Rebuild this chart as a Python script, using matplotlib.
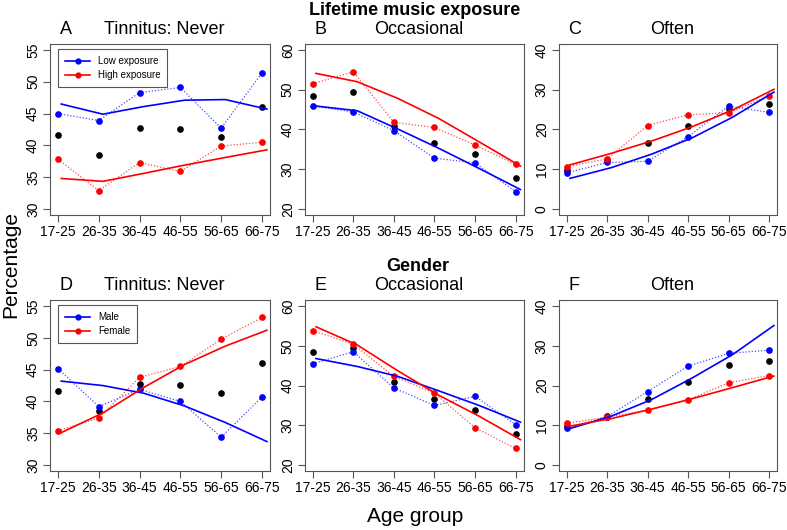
import numpy as np
import matplotlib
matplotlib.use("Agg")
import matplotlib.pyplot as plt
from matplotlib.lines import Line2D

plt.rcParams['font.family'] = ['Liberation Sans', 'DejaVu Sans']

# ===== DATA =====
age_groups = ['17-25', '26-35', '36-45', '46-55', '56-65', '66-75']
x_pts = np.arange(1, 7)
x_fit = np.array([1.08, 2.1, 3.1, 4.1, 5.1, 6.12])

# overall (black) points, shared by both rows
all_never = [41.7, 38.5, 42.8, 42.6, 41.3, 46.0]
all_occ = [48.5, 49.4, 40.9, 36.5, 33.8, 27.7]
all_often = [9.8, 12.4, 16.5, 20.9, 25.1, 26.3]

# Lifetime music exposure
low_never = [45.0, 43.9, 48.3, 49.1, 42.7, 51.4]
high_never = [37.8, 32.9, 37.3, 35.9, 39.9, 40.5]
low_never_fit = [46.5, 44.9, 46.1, 47.1, 47.2, 45.7]
high_never_fit = [34.8, 34.35, 35.6, 36.9, 38.1, 39.3]

low_occ = [45.9, 44.4, 39.7, 32.8, 31.6, 24.4]
high_occ = [51.5, 54.5, 41.8, 40.5, 36.1, 31.2]
low_occ_fit = [45.9, 44.7, 40.1, 35.3, 30.2, 24.9]
high_occ_fit = [54.1, 52.0, 47.8, 42.8, 36.9, 30.8]

low_often = [9.1, 11.7, 12.0, 18.2, 25.9, 24.3]
high_often = [10.65, 12.6, 21.0, 23.7, 24.2, 28.4]
low_often_fit = [7.7, 10.4, 13.8, 17.9, 23.1, 29.4]
high_often_fit = [11.1, 14.0, 17.1, 20.7, 24.9, 30.1]

# Gender
male_never = [45.15, 39.2, 41.9, 40.0, 34.4, 40.7]
female_never = [35.4, 37.4, 43.8, 45.5, 49.8, 53.2]
male_never_fit = [43.2, 42.5, 41.3, 39.3, 36.7, 33.7]
female_never_fit = [35.1, 38.2, 42.2, 45.8, 48.7, 51.2]

male_occ = [45.5, 48.5, 39.4, 35.0, 37.3, 30.2]
female_occ = [53.8, 50.4, 42.3, 38.1, 29.4, 24.2]
male_occ_fit = [46.8, 44.8, 42.3, 38.7, 35.0, 30.8]
female_occ_fit = [54.8, 50.2, 43.7, 37.6, 32.3, 26.4]

male_often = [9.3, 12.2, 18.5, 24.9, 28.1, 28.9]
female_often = [10.5, 12.1, 13.8, 16.4, 20.7, 22.5]
male_often_fit = [9.2, 12.3, 16.5, 21.9, 27.8, 35.1]
female_often_fit = [9.8, 11.7, 14.1, 16.7, 19.5, 22.4]

letters = ['A', 'B', 'C', 'D', 'E', 'F']
titles = ['Tinnitus: Never', 'Occasional', 'Often'] * 2
yranges = [(30, 55, 5), (20, 60, 10), (0, 40, 10)]

panels = [
    (all_never, low_never, high_never, low_never_fit, high_never_fit),
    (all_occ, low_occ, high_occ, low_occ_fit, high_occ_fit),
    (all_often, low_often, high_often, low_often_fit, high_often_fit),
    (all_never, male_never, female_never, male_never_fit, female_never_fit),
    (all_occ, male_occ, female_occ, male_occ_fit, female_occ_fit),
    (all_often, male_often, female_often, male_often_fit, female_often_fit),
]

# ===== FIGURE =====
fig = plt.figure(figsize=(7.87, 5.30), dpi=100)
lefts = [0.0633, 0.387, 0.7098]
widths = [0.28, 0.2785, 0.2777]
bottoms = [0.5936, 0.1104]
height = 0.3242
frame_col = '#555555'

for k, (blk, s1, s2, f1, f2) in enumerate(panels):
    row, col = divmod(k, 3)
    ax = fig.add_axes([lefts[col], bottoms[row], widths[col], height])
    lo, hi, step = yranges[col]
    pad = (hi - lo) * 0.04

    # observed values: dotted lines with points
    for vals, c in ((s1, 'blue'), (s2, 'red')):
        ax.plot(x_pts, vals, color=c, ls=(0, (1, 1.5)), lw=0.9, alpha=0.7)
        ax.plot(x_pts, vals, 'o', color=c, ms=3.8)
    # fitted trends
    ax.plot(x_fit, f1, color='blue', lw=1.2)
    ax.plot(x_fit, f2, color='red', lw=1.2)
    ax.plot(x_pts, blk, 'o', color='black', ms=3.8, zorder=1)

    ax.set_xlim(0.8, 6.2)
    ax.set_ylim(lo - pad, hi + pad)
    ax.set_xticks(x_pts)
    ax.set_xticklabels(age_groups, fontsize=10)
    ax.set_yticks(np.arange(lo, hi + 1, step))
    ax.set_yticklabels([str(v) for v in np.arange(lo, hi + 1, step)],
                       fontsize=10, rotation=90, va='center')
    ax.tick_params(length=5, color=frame_col, width=0.8, pad=2)
    for sp in ax.spines.values():
        sp.set_color(frame_col)
        sp.set_linewidth(0.8)

    ax.text(0.52, 1.035, titles[k], transform=ax.transAxes,
            ha='center', va='bottom', fontsize=13)
    ax.text(0.045, 1.035, letters[k], transform=ax.transAxes,
            ha='left', va='bottom', fontsize=13)

    if col == 0:
        labs = ['Low exposure', 'High exposure'] if row == 0 else ['Male', 'Female']
        handles = [Line2D([], [], color='blue', marker='o', ms=3.5, lw=1.2),
                   Line2D([], [], color='red', marker='o', ms=3.5, lw=1.2)]
        leg = ax.legend(handles, labs, loc='upper left',
                        bbox_to_anchor=(0.038, 0.967), borderaxespad=0,
                        fontsize=7, fancybox=False, framealpha=1,
                        handlelength=2.6, borderpad=0.7, labelspacing=0.4)
        leg.get_frame().set_edgecolor(frame_col)
        leg.get_frame().set_linewidth(0.8)

fig.text(0.527, 0.981, 'Lifetime music exposure', ha='center', va='center',
         fontsize=13, fontweight='bold')
fig.text(0.531, 0.498, 'Gender', ha='center', va='center',
         fontsize=13, fontweight='bold')
fig.text(0.014, 0.5, 'Percentage', rotation=90, ha='center', va='center', fontsize=15)
fig.text(0.527, 0.026, 'Age group', ha='center', va='center', fontsize=15)

fig.savefig('out.png', dpi=100)
